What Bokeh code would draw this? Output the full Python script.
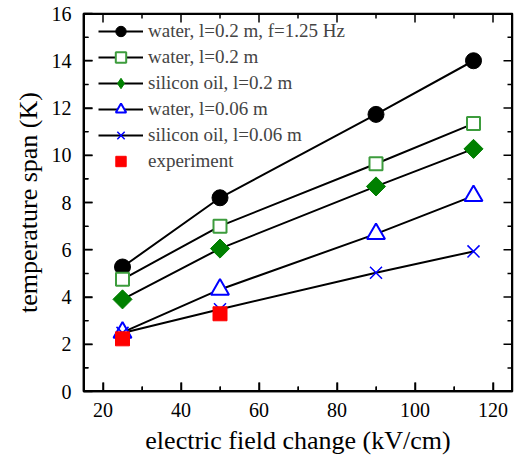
import numpy as np
from bokeh.plotting import figure
from bokeh.models import Range1d, FixedTicker, Legend, LegendItem
from bokeh.embed import file_html
from bokeh.resources import INLINE

# ---- data ----
field = [25, 50, 90, 115]
water_f125 = [5.27, 8.2, 11.73, 14.0]
water_02 = [4.75, 7.0, 9.64, 11.34]
silicon_02 = [3.9, 6.05, 8.68, 10.27]
water_006 = [2.5, 4.32, 6.67, 8.28]
silicon_006 = [2.48, 3.48, 5.03, 5.93]
exp_field = [25, 50]
experiment = [2.23, 3.29]

labels = ["water, l=0.2 m, f=1.25 Hz", "water, l=0.2 m", "silicon oil, l=0.2 m",
          "water, l=0.06 m", "silicon oil, l=0.06 m", "experiment"]

# ---- axes ----
x_lo, x_hi = 15, 125
y_lo, y_hi = 0, 16
x_major_ticks = [20, 40, 60, 80, 100, 120]
x_minor_ticks = [30, 50, 70, 90, 110]
y_major_ticks = [0, 2, 4, 6, 8, 10, 12, 14, 16]
y_minor_ticks = [1, 3, 5, 7, 9, 11, 13, 15]

FONT = "Liberation Serif"

p = figure(width=515, height=457, output_backend="svg", toolbar_location=None,
           x_range=Range1d(x_lo, x_hi), y_range=Range1d(y_lo, y_hi),
           min_border_left=83, min_border_right=3, min_border_top=13, min_border_bottom=40)
p.outline_line_color = "black"
p.outline_line_width = 1.5
p.xgrid.grid_line_color = None
p.ygrid.grid_line_color = None

p.xaxis.ticker = FixedTicker(ticks=x_major_ticks, minor_ticks=x_minor_ticks)
p.yaxis.ticker = FixedTicker(ticks=y_major_ticks, minor_ticks=y_minor_ticks)
for ax in p.xaxis + p.yaxis:
    ax.axis_line_color = "black"
    ax.axis_line_width = 1.5
    ax.major_tick_line_width = 1.5
    ax.major_tick_in = 9
    ax.major_tick_out = 0
    ax.minor_tick_in = 5
    ax.minor_tick_out = 0
    ax.major_label_text_font = FONT
    ax.major_label_text_font_size = "20px"
    ax.major_label_text_color = "black"
    ax.axis_label_text_font = FONT
    ax.axis_label_text_font_size = "26px"
    ax.axis_label_text_font_style = "normal"
    ax.axis_label_text_color = "black"
p.xaxis.axis_label = "electric field change (kV/cm)"
p.yaxis.axis_label = "temperature span (K)"
p.xaxis.major_label_standoff = 11
p.xaxis.axis_label_standoff = 6
p.yaxis.major_label_standoff = 12
p.yaxis.axis_label_standoff = 6

# ---- lines ----
series = [water_f125, water_02, silicon_02, water_006, silicon_006]
lines = [p.line(field, s, line_color="black", line_width=2) for s in series]

# ---- markers ----
m0 = p.scatter(field, water_f125, marker="circle", size=16, fill_color="black", line_color="black")
m1 = p.scatter(field, water_02, marker="square", size=13, fill_color="white",
               line_color="#3d9c3d", line_width=2)
m2 = p.scatter(field, silicon_02, marker="square", size=13.5, angle=np.pi / 4,
               fill_color="#008000", line_color="#008000")
m2_leg = p.scatter(field, silicon_02, marker="diamond", size=19,
                   fill_color="#008000", line_color="#008000", visible=False)
m3 = p.scatter(field, water_006, marker="triangle", size=18, fill_color="white",
               line_color="#0000ff", line_width=2)
m4 = p.scatter(field, silicon_006, marker="x", size=17, line_color="#0000ff", line_width=1.5)
m5 = p.scatter(exp_field, experiment, marker="square", size=14, fill_color="#ff0000",
               line_color="#ff0000")

# ---- frame box and inward ticks on all four sides (half of each dash is clipped by the frame) ----
p.line([x_lo, x_hi, x_hi, x_lo, x_lo], [y_lo, y_lo, y_hi, y_hi, y_lo],
       line_color="black", line_width=3)
for ticks, sz in ((x_major_ticks, 18), (x_minor_ticks, 10)):
    n = len(ticks)
    p.scatter(ticks, [y_lo] * n, marker="dash", size=sz, angle=np.pi / 2,
              line_color="black", line_width=1.5)
    p.scatter(ticks, [y_hi] * n, marker="dash", size=sz, angle=np.pi / 2,
              line_color="black", line_width=1.5)
for ticks, sz in ((y_major_ticks, 18), (y_minor_ticks, 10)):
    n = len(ticks)
    p.scatter([x_lo] * n, ticks, marker="dash", size=sz,
              line_color="black", line_width=1.5)
    p.scatter([x_hi] * n, ticks, marker="dash", size=sz,
              line_color="black", line_width=1.5)

rends = [[lines[0], m0], [lines[1], m1], [lines[2], m2_leg], [lines[3], m3], [lines[4], m4], [m5]]
items = [LegendItem(label=l, renderers=r) for l, r in zip(labels, rends)]
legend = Legend(items=items, location=(15, 217), margin=0, padding=0,
                glyph_width=45, glyph_height=26, spacing=0, label_standoff=5,
                label_text_font=FONT, label_text_font_size="19px",
                background_fill_color=None, border_line_color=None)
p.add_layout(legend, "center")

open("out.html", "w").write(file_html(p, INLINE))
